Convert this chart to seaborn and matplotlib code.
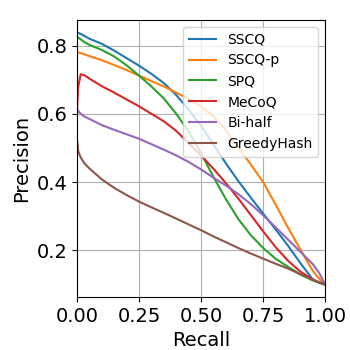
import numpy as np
import seaborn as sns
import matplotlib
matplotlib.use("Agg")
import matplotlib.pyplot as plt

# ------------------- data -------------------
recall = [0, 0.005, 0.015, 0.03, 0.05, 0.1, 0.15, 0.2, 0.25, 0.3, 0.35, 0.4,
          0.45, 0.5, 0.55, 0.6, 0.65, 0.7, 0.75, 0.8, 0.85, 0.9, 0.95, 0.975, 1.0]

sscq = [0.838, 0.837, 0.834, 0.828, 0.82, 0.805, 0.785, 0.763, 0.741, 0.717, 0.69, 0.655,
        0.612, 0.565, 0.51, 0.455, 0.403, 0.355, 0.308, 0.262, 0.214, 0.163, 0.115, 0.105, 0.1]
sscq_p = [0.781, 0.780, 0.778, 0.774, 0.769, 0.757, 0.743, 0.728, 0.712, 0.696, 0.68, 0.662,
          0.643, 0.622, 0.593, 0.552, 0.502, 0.452, 0.4, 0.335, 0.267, 0.203, 0.14, 0.118, 0.1]
spq = [0.825, 0.823, 0.818, 0.81, 0.802, 0.787, 0.768, 0.742, 0.712, 0.68, 0.645, 0.6,
       0.548, 0.485, 0.415, 0.35, 0.292, 0.245, 0.207, 0.176, 0.152, 0.13, 0.112, 0.106, 0.1]
mecoq = [0.615, 0.68, 0.716, 0.713, 0.703, 0.681, 0.662, 0.642, 0.622, 0.6, 0.578, 0.55,
         0.514, 0.478, 0.439, 0.397, 0.352, 0.304, 0.256, 0.21, 0.17, 0.138, 0.115, 0.107, 0.1]
bi_half = [0.615, 0.608, 0.6, 0.592, 0.585, 0.567, 0.553, 0.54, 0.527, 0.511, 0.495, 0.478,
           0.459, 0.437, 0.413, 0.39, 0.365, 0.336, 0.303, 0.268, 0.232, 0.196, 0.16, 0.135, 0.1]
greedy = [0.525, 0.49, 0.472, 0.455, 0.44, 0.408, 0.383, 0.362, 0.343, 0.326, 0.31, 0.293,
          0.276, 0.259, 0.241, 0.224, 0.207, 0.191, 0.176, 0.161, 0.147, 0.13, 0.114, 0.107, 0.1]

methods = ["SSCQ", "SSCQ-p", "SPQ", "MeCoQ", "Bi-half", "GreedyHash"]
curves = [sscq, sscq_p, spq, mecoq, bi_half, greedy]

# ------------------- plot -------------------
fig, ax = plt.subplots(figsize=(3.5, 3.5), dpi=100)
colors = sns.color_palette("tab10", len(methods))

for name, vals, c in zip(methods, curves, colors):
    sns.lineplot(x=recall, y=vals, label=name, color=c, ax=ax,
                 sort=False, estimator=None, linewidth=1.5)

ax.set_xlim(0, 1)
ax.set_xticks([0, 0.25, 0.5, 0.75, 1.0])
ax.set_yticks([0.2, 0.4, 0.6, 0.8])
ax.grid(True)
ax.set_xlabel("Recall", fontsize=14)
ax.set_ylabel("Precision", fontsize=14)
ax.tick_params(labelsize=14)
ax.legend(loc="upper right", fontsize=10)

plt.subplots_adjust(left=0.22, right=0.929, top=0.943, bottom=0.151)
plt.savefig("out.png", dpi=100)
